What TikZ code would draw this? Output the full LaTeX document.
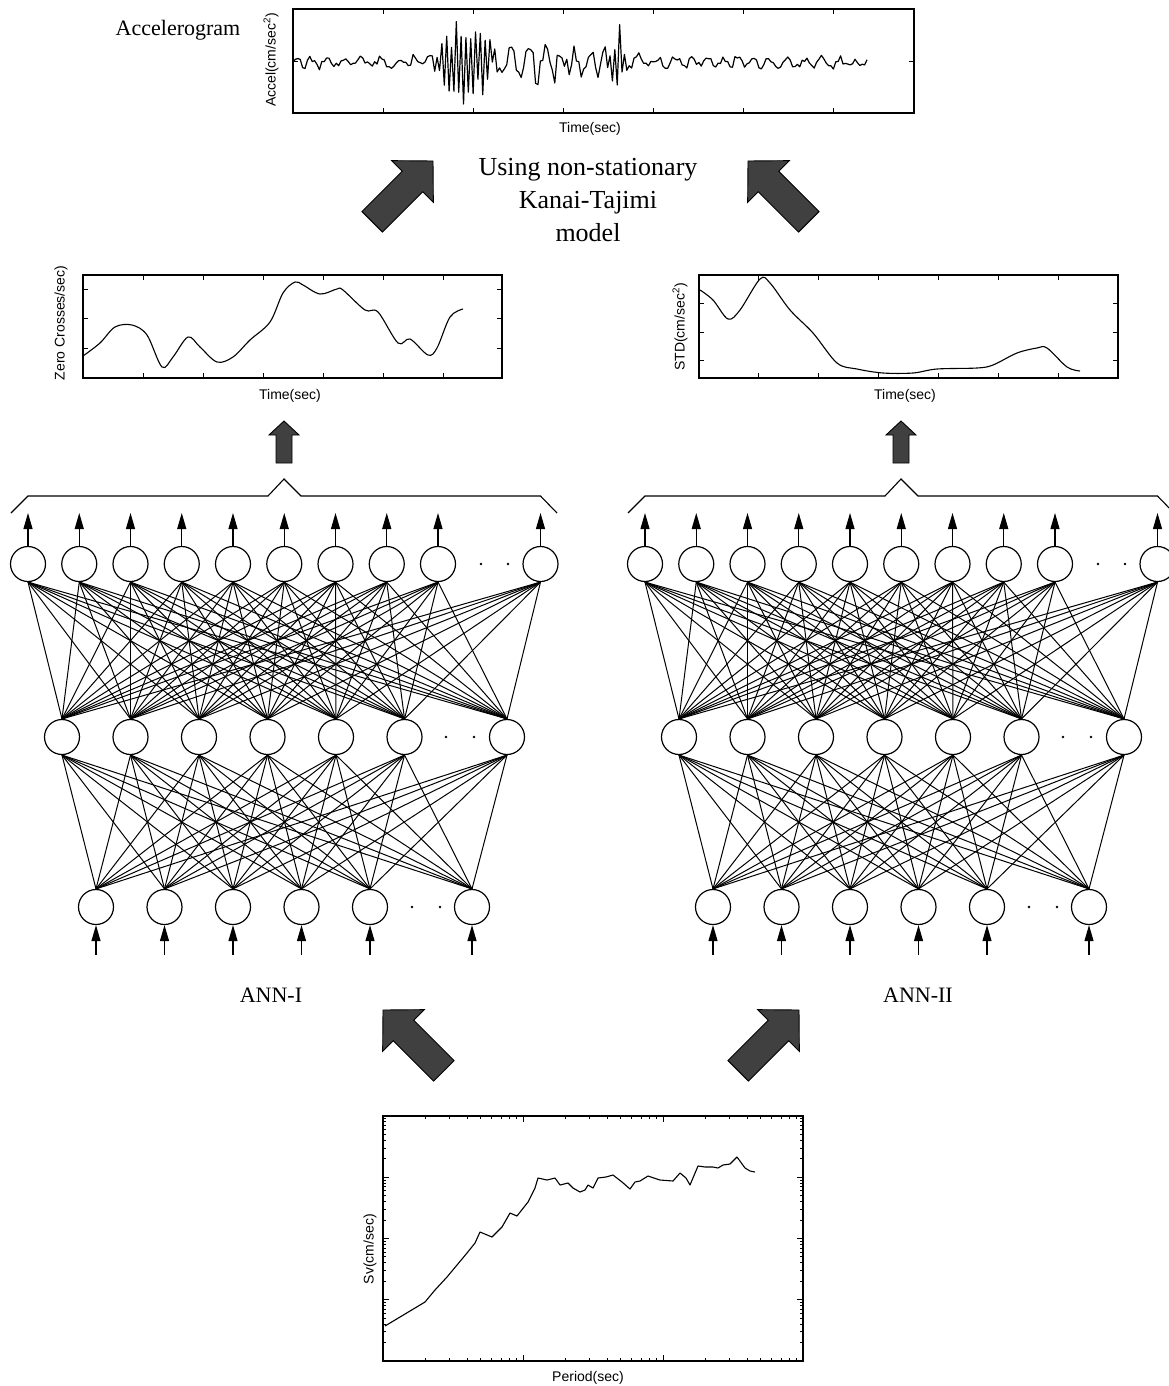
\documentclass[tikz,border=0pt]{standalone}
\usepackage{fontspec}
\setmainfont{Liberation Serif}
\setsansfont{Liberation Sans}
\usetikzlibrary{arrows.meta}
\definecolor{arrowgray}{HTML}{404040}
\tikzset{
  neuron/.style={circle, draw, line width=1.2pt, minimum size=35pt, inner sep=0pt, fill=white},
  conn/.style={line width=1pt},
  sigarrow/.style={-{Triangle[length=16pt,width=9pt]}, line width=1.1pt},
  axbox/.style={line width=1.3pt},
  tickline/.style={line width=1pt},
  curve/.style={line width=1.1pt},
  fatstyle/.style={fill=arrowgray, draw=black, line width=0.9pt, line join=miter},
  serlabel/.style={font=\fontsize{22}{33}\selectfont, inner sep=0pt},
  axlabel/.style={font=\sffamily\fontsize{14}{16}\selectfont, inner sep=0pt},
  pics/fatarrow/.style n args={4}{code={
    \draw[fatstyle] (0,0) -- (-#2,#3) -- (-#2,#4) -- (-#1,#4) -- (-#1,-#4) -- (-#2,-#4) -- (-#2,-#3) -- cycle;
  }},
  declare function={
    bgamp(\t)=8+18*exp(-min(((\t-555)/50)^2,9));
    burstamp(\t)=42*exp(-min(abs((\t-466)/27),2)^4)+38*exp(-min(((\t-617)/6)^2,9));
    altsign(\t)=1-2*mod(round((\t-293)/2.40167),2);
    accsig(\t)=62-bgamp(\t)*(0.55*sin(22*(\t-293)+70*sin(2.5*(\t-293)))+0.5*rand)-burstamp(\t)*altsign(\t)*(0.5+0.5*rnd);
  }
}
\begin{document}
\begin{tikzpicture}[x=1pt,y=-1pt]
\useasboundingbox (0,0) rectangle (1169,1386);
\pgfmathsetseed{42}

% ---------------- Accelerogram plot ----------------
\node[serlabel] (acctitle) at (178,30) {Accelerogram};
\draw[axbox] (293,9) rectangle (914,113);
\foreach \tx in {383,473,563,653,743,833}{
  \draw[tickline] (\tx,113) -- (\tx,108);
  \draw[tickline] (\tx,9) -- (\tx,14);
}
\draw[tickline] (914,62) -- (909,62);
\draw[tickline] (293,62) -- (298,62);
\draw[tickline] (293,10) -- (298,10);
\draw[line width=1.2pt, line join=round] plot[domain=293:867, samples=240] (\x,{accsig(\x)});
\node[axlabel, rotate=90] (accy) at (271,60) {Accel(cm/sec\textsuperscript{2})};
\node[axlabel] (accx) at (590,129) {Time(sec)};

% ---------------- Middle text and big arrows ----------------
\node[font=\fontsize{26}{33}\selectfont, align=center, inner sep=0pt] (ktmodel) at (588,200) {Using non-stationary\\Kanai-Tajimi\\model};
\pic[rotate=45] at (433,161) {fatarrow={86}{29}{29.5}{14.5}};
\pic[rotate=135] at (748,161) {fatarrow={86}{29}{29.5}{14.5}};

% ---------------- Zero crosses plot ----------------
\draw[axbox] (83,275) rectangle (502,378);
\foreach \tx in {143,203,263,323,383,443}{
  \draw[tickline] (\tx,378) -- (\tx,373);
  \draw[tickline] (\tx,275) -- (\tx,280);
}
\foreach \ty in {289,318,348}{
  \draw[tickline] (83,\ty) -- (88,\ty);
  \draw[tickline] (502,\ty) -- (497,\ty);
}
\draw[curve] plot[smooth, tension=0.55] coordinates {(83,356) (100,343) (115,327) (132,325) (147,335) (162,367) (173,357) (188,337) (200,347) (217,362) (233,357) (250,340) (270,322) (283,293) (295,282) (303,285) (320,294) (337,289) (343,290) (365,310) (378,312) (398,343) (410,339) (428,355) (437,348) (450,317) (463,309)};
\node[axlabel, rotate=90] (zcy) at (61,323) {Zero Crosses/sec)};
\node[axlabel] (zcx) at (290,396) {Time(sec)};

% ---------------- STD plot ----------------
\draw[axbox] (699,275) rectangle (1118,378);
\foreach \tx in {758,818,878,938,998,1058}{
  \draw[tickline] (\tx,378) -- (\tx,373);
  \draw[tickline] (\tx,275) -- (\tx,280);
}
\foreach \ty in {303,332,360}{
  \draw[tickline] (699,\ty) -- (704,\ty);
  \draw[tickline] (1118,\ty) -- (1113,\ty);
}
\draw[curve] plot[smooth, tension=0.55] coordinates {(700,290) (713,300) (728,319) (740,310) (760,279) (770,283) (790,310) (813,333) (837,363) (857,369) (883,373) (913,373) (937,369) (977,368) (993,365) (1017,353) (1037,348) (1047,348) (1067,367) (1080,371)};
\node[axlabel, rotate=90] (stdy) at (680,327) {STD(cm/sec\textsuperscript{2})};
\node[axlabel] (stdx) at (905,396) {Time(sec)};

% ---------------- Networks ----------------
\foreach \off/\nm in {0/L,617/R}{
  % brace and small arrow
  \draw[line width=1.1pt] (\off+11,513) -- (\off+28,496) -- (\off+268,496) -- (\off+284,479) -- (\off+301,496) -- (\off+540.5,496) -- (\off+557,513);
  \pic[rotate=90] at (\off+284,421) {fatarrow={42}{14}{15}{8}};
  % output layer
  \foreach \i in {1,...,9}{
    \node[neuron] (\nm o\i) at ({\off+28+51.25*(\i-1)},564) {};
    \coordinate (\nm ot\i) at ({\off+28+51.25*(\i-1)},513);
  }
  \node[neuron] (\nm o10) at (\off+540.5,564) {};
  \coordinate (\nm ot10) at (\off+540.5,513);
  % hidden layer
  \foreach \i in {1,...,6}{
    \node[neuron] (\nm h\i) at ({\off+62+68.5*(\i-1)},737) {};
  }
  \node[neuron] (\nm h7) at (\off+507,737) {};
  % input layer
  \foreach \i in {1,...,5}{
    \node[neuron] (\nm i\i) at ({\off+96+68.5*(\i-1)},907) {};
    \coordinate (\nm ib\i) at ({\off+96+68.5*(\i-1)},955);
  }
  \node[neuron] (\nm i6) at (\off+472,907) {};
  \coordinate (\nm ib6) at (\off+472,955);
  % connections
  \foreach \a in {1,...,10}{
    \foreach \b in {1,...,7}{
      \draw[conn] (\nm o\a.south) -- (\nm h\b.north);
    }
    \draw[sigarrow] (\nm o\a.north) -- (\nm ot\a);
  }
  \foreach \a in {1,...,7}{
    \foreach \b in {1,...,6}{
      \draw[conn] (\nm h\a.south) -- (\nm i\b.north);
    }
  }
  \foreach \b in {1,...,6}{
    \draw[sigarrow] (\nm ib\b) -- (\nm i\b.south);
  }
  % dots
  \fill (\off+481,564) circle (1.4pt);
  \fill (\off+508,564) circle (1.4pt);
  \fill (\off+446,737) circle (1.4pt);
  \fill (\off+474,737) circle (1.4pt);
  \fill (\off+412,907) circle (1.4pt);
  \fill (\off+440,907) circle (1.4pt);
}
\node[serlabel] (ann1) at (271,995) {ANN-I};
\node[serlabel] (ann2) at (918,995) {ANN-II};

% ---------------- bottom arrows ----------------
\pic[rotate=135] at (383,1010) {fatarrow={86}{29}{29.5}{14.5}};
\pic[rotate=45] at (799,1010) {fatarrow={86}{29}{29.5}{14.5}};

% ---------------- Sv plot ----------------
\draw[axbox] (383,1116) rectangle (803,1361);
\foreach \d in {383,523,663}{
  \draw[tickline] (\d,1361) -- (\d,1355);
  \draw[tickline] (\d,1116) -- (\d,1122);
  \foreach \k in {2,...,9}{
    \pgfmathsetmacro\mx{\d+140*log10(\k)}
    \draw[tickline] (\mx,1361) -- (\mx,1358);
    \draw[tickline] (\mx,1116) -- (\mx,1119);
  }
}
\foreach \d in {1177.25,1238.5,1299.75,1361}{
  \draw[tickline] (383,\d) -- (389,\d);
  \draw[tickline] (803,\d) -- (797,\d);
  \foreach \k in {2,...,9}{
    \pgfmathsetmacro\my{\d-61.25*log10(\k)}
    \draw[tickline] (383,\my) -- (386,\my);
    \draw[tickline] (803,\my) -- (800,\my);
  }
}
\draw[line width=1.1pt, line join=round] plot coordinates {(385,1326) (405,1314) (425,1302) (435,1290) (447,1277) (457,1265) (467,1253) (475,1243) (480,1232) (492,1237) (502,1227) (510,1213) (517,1216) (528,1202) (535,1188) (538,1178) (547,1180) (555,1178) (560,1185) (568,1183) (573,1188) (580,1192) (585,1190) (588,1185) (593,1188) (598,1178) (606,1177) (613,1175) (622,1182) (630,1189) (635,1182) (640,1181) (648,1176) (660,1180) (673,1181) (680,1173) (686,1178) (690,1185) (698,1166) (705,1167) (713,1167) (718,1168) (723,1165) (730,1164) (737,1157) (745,1168) (750,1171) (755,1172)};
\node[axlabel, rotate=90] (svy) at (370,1249) {Sv(cm/sec)};
\node[axlabel] (svx) at (588,1378) {Period(sec)};
\end{tikzpicture}
\end{document}
